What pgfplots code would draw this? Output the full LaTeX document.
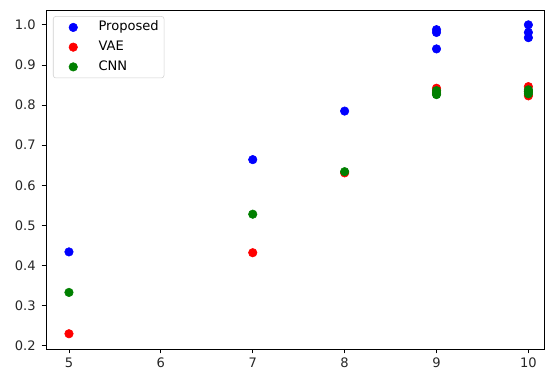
\documentclass[border=0pt]{standalone}
\usepackage{pgfplots}
\pgfplotsset{compat=1.18}
\usepackage{fontspec}
\setmainfont{DejaVu Sans}
\definecolor{mblue}{RGB}{0,0,255}
\definecolor{mred}{RGB}{255,0,0}
\definecolor{mgreen}{RGB}{0,128,0}
\begin{document}
\begin{tikzpicture}[x=1pt,y=1pt]
\begin{axis}[
  at={(0pt,0pt)}, anchor=south west,
  scale only axis,
  width=373.5pt, height=254.25pt,
  xmin=4.75, xmax=10.17, ymin=0.192, ymax=1.037,
  xtick={5,6,7,8,9,10},
  ytick={0.2,0.3,0.4,0.5,0.6,0.7,0.8,0.9,1.0},
  yticklabel style={/pgf/number format/fixed,/pgf/number format/fixed zerofill,/pgf/number format/precision=1, xshift=-1pt},
  /pgf/number format/assume math mode=true,
  tick align=outside,
  xtick pos=bottom, ytick pos=left,
  major tick length=3.2pt,
  tick style={black, line width=0.6pt},
  axis line style={black, line width=0.6pt},
  ticklabel style={font=\fontsize{9.8}{11}\selectfont, color=black!85},
  legend style={at={(0.014,0.982)}, anchor=north west, draw=black!18, rounded corners=2pt,
    font=\fontsize{9.8}{11}\selectfont, fill=white, fill opacity=0.8, text opacity=1,
    inner xsep=2pt, inner ysep=3pt, row sep=4.2pt,
    nodes={inner xsep=2pt, inner ysep=0.8pt, text height=7pt, text depth=2pt}},
  legend cell align=left,
  legend image code/.code={\path[draw=none] (0pt,0pt) -- (30pt,0pt); \path[#1, draw=none, every mark/.append style={fill opacity=1, draw opacity=1}] plot coordinates {(13pt,0pt)};},
  every axis plot/.append style={only marks, mark=*, mark size=3.2pt},
]
\addplot[only marks, mark options={draw=mblue, fill=mblue}] coordinates {
 (5,0.434) (7,0.664) (8,0.785) (9,0.988) (9,0.981) (9,0.940) (10,1.000) (10,0.981) (10,0.968)
};
\addlegendentry{Proposed}
\addplot[only marks, mark options={draw=mred, fill=mred}] coordinates {
 (5,0.230) (7,0.432) (8,0.631) (9,0.842) (9,0.835) (9,0.830) (10,0.846) (10,0.834) (10,0.823)
};
\addlegendentry{VAE}
\addplot[only marks, mark options={draw=mgreen, fill=mgreen}] coordinates {
 (5,0.333) (7,0.528) (8,0.634) (9,0.836) (9,0.830) (9,0.826) (10,0.838) (10,0.833) (10,0.828)
};
\addlegendentry{CNN}
\end{axis}
\useasboundingbox (-34.5pt,-15pt) rectangle (374.25pt,261.75pt);
\end{tikzpicture}
\end{document}
